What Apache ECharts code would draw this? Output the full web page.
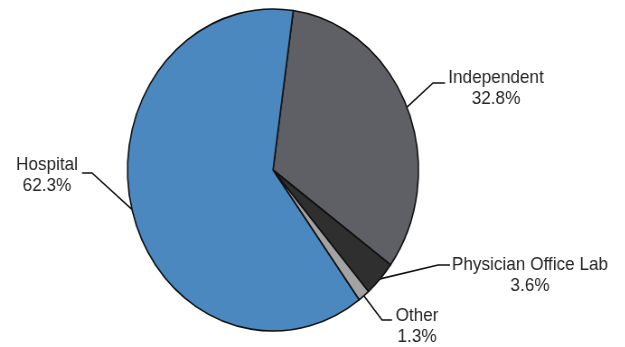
<!DOCTYPE html>
<html>
<head>
<meta charset="utf-8">
<script src="https://cdn.jsdelivr.net/npm/echarts@6/dist/echarts.min.js"></script>
<style>
html,body{margin:0;padding:0;background:#fff;overflow:hidden;width:625px;height:347px;}
#chart{width:692px;height:347px;transform:scaleX(0.9037);transform-origin:0 0;}
</style>
</head>
<body>
<div id="chart"></div>
<script>
// Data
const categories = ['Independent', 'Physician Office Lab', 'Other', 'Hospital'];
const shares = [32.8, 3.6, 1.3, 62.3];

// Styling / layout (kept separate from data)
const colors = ['#5f6065', '#2f2f2f', '#a3a3a3', '#4a88bf'];
const SX = 0.9037; // horizontal squeeze of the original picture
const ux = x => x / SX;
// label anchor (center x, middle y) and leader-line elbow/end, in picture pixels
const labelPos = [
  {x: 496, y: 88,  elbow: [433, 83],  end: [445, 83]},
  {x: 530, y: 275, elbow: [438, 265], end: [450, 265]},
  {x: 417, y: 326, elbow: [382, 320], end: [392, 320]},
  {x: 47,  y: 175, elbow: [92, 173],  end: [82, 173]}
];

const chart = echarts.init(document.getElementById('chart'), null, {renderer: 'canvas'});
chart.setOption({
  animation: false,
  backgroundColor: '#ffffff',
  series: [{
    type: 'pie',
    center: [ux(273), 170],
    radius: 161,
    startAngle: 82,
    clockwise: true,
    avoidLabelOverlap: false,
    data: categories.map((c, i) => ({name: c, value: shares[i], itemStyle: {color: colors[i]}})),
    itemStyle: {borderColor: '#111', borderWidth: 1.6},
    label: {
      show: true,
      formatter: p => p.name + '\n' + p.value.toFixed(1) + '%',
      fontFamily: 'Liberation Sans, Arial, sans-serif',
      fontSize: 19,
      lineHeight: 21,
      color: '#262626',
      align: 'center'
    },
    labelLine: {show: true, length: 10, length2: 10, lineStyle: {color: '#111', width: 1.6}},
    emphasis: {disabled: true},
    labelLayout: function (params) {
      const lp = labelPos[params.dataIndex];
      const start = params.labelLinePoints ? params.labelLinePoints[0] : [0, 0];
      return {
        x: ux(lp.x),
        y: lp.y,
        align: 'center',
        verticalAlign: 'middle',
        labelLinePoints: [start, [ux(lp.elbow[0]), lp.elbow[1]], [ux(lp.end[0]), lp.end[1]]]
      };
    }
  }]
});
</script>
</body>
</html>
